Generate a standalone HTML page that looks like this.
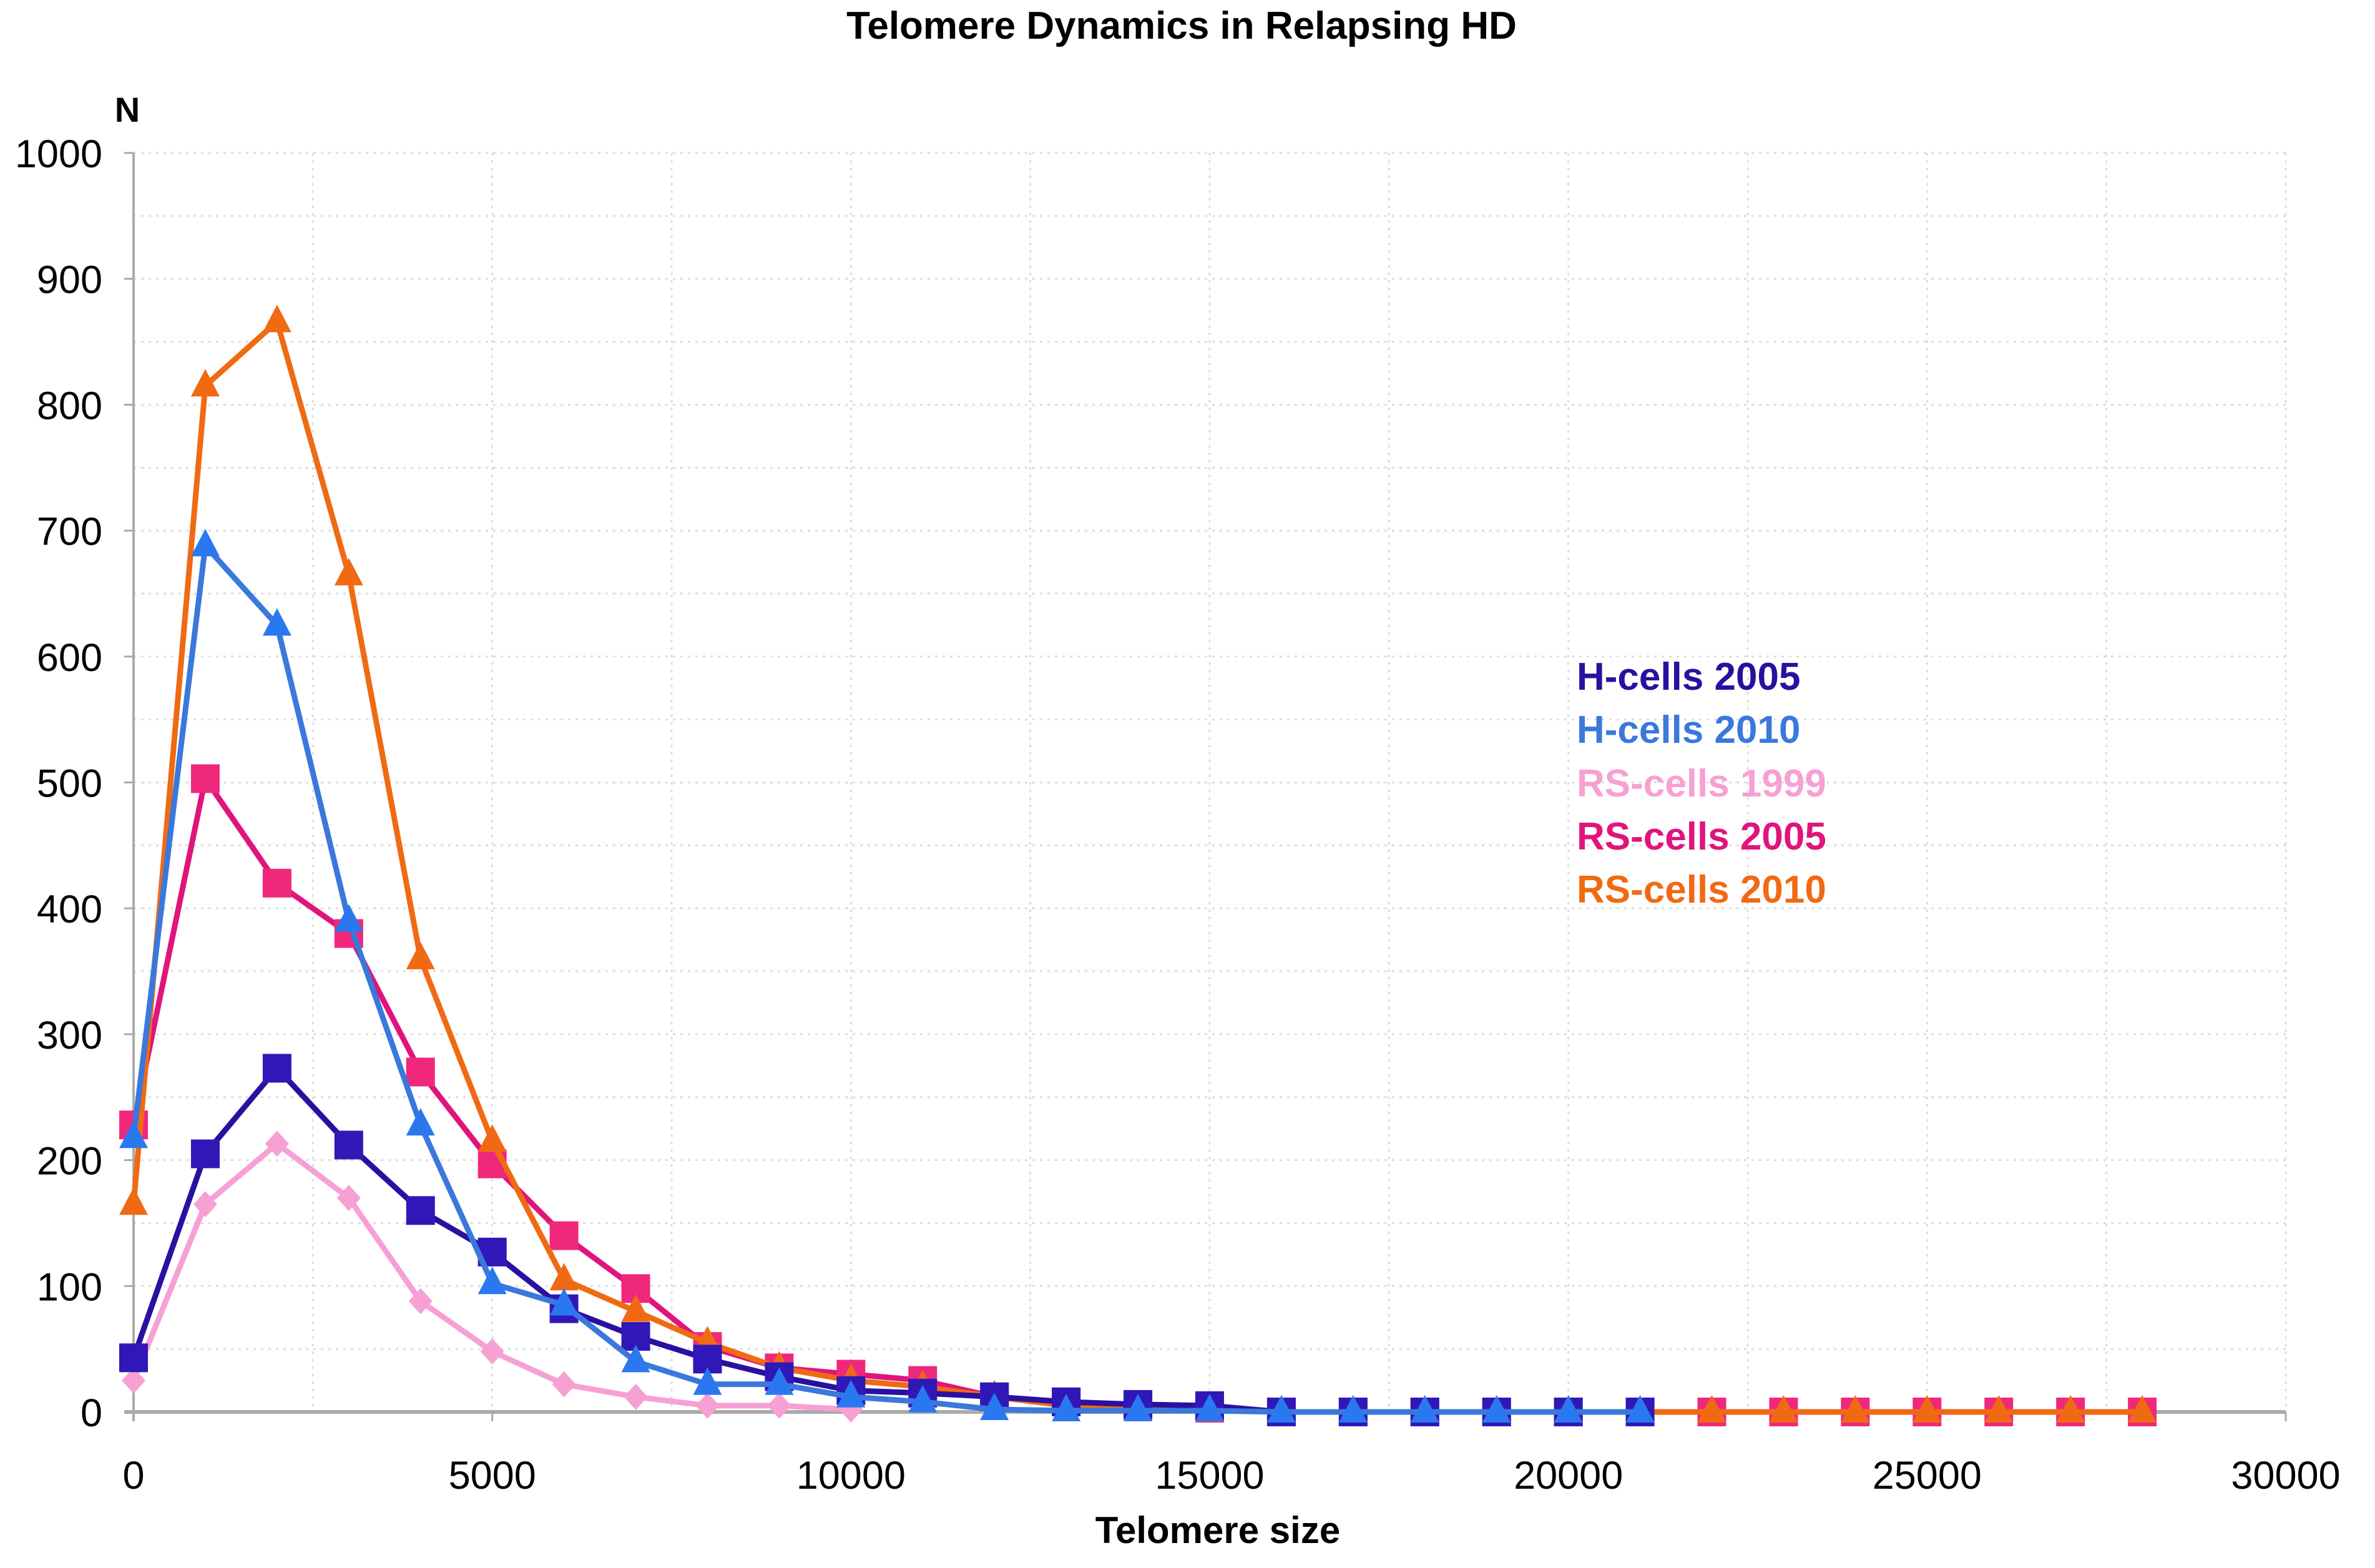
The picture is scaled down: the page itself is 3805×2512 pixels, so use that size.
<!DOCTYPE html>
<html><head><meta charset="utf-8"><style>
html,body{margin:0;padding:0;background:#fff;}
svg{display:block;font-family:"Liberation Sans",Arial,sans-serif;}
</style></head><body>
<svg id="chart" width="3805" height="2512" viewBox="0 0 3805 2512" xmlns="http://www.w3.org/2000/svg">
<rect width="3805" height="2512" fill="#fff"/>
<text x="1893" y="62" text-anchor="middle" font-size="62" font-weight="bold">Telomere Dynamics in Relapsing HD</text>
<text x="204" y="195" text-anchor="middle" font-size="56" font-weight="bold">N</text>
<text x="1951" y="2472" text-anchor="middle" font-size="60" font-weight="bold">Telomere size</text>
<g id="grid"></g><g id="axes"></g><g id="series"></g>
<g font-size="62" font-weight="bold">
<text x="2526" y="1105" fill="#2a10a0">H-cells 2005</text>
<text x="2526" y="1190" fill="#3a78dc">H-cells 2010</text>
<text x="2526" y="1276" fill="#f7a0d4">RS-cells 1999</text>
<text x="2526" y="1361" fill="#e0147c">RS-cells 2005</text>
<text x="2526" y="1446" fill="#f06a14">RS-cells 2010</text>
</g>
</svg>
<script>
const xTicks=[0,5000,10000,15000,20000,25000,30000];
const yTicks=[0,100,200,300,400,500,600,700,800,900,1000];
const xCats=[0,1000,2000,3000,4000,5000,6000,7000,8000,9000,10000,11000,12000,13000,14000,15000,16000,17000,18000,19000,20000,21000,22000,23000,24000,25000,26000,27000,28000];
const rs2010=[165,815,866,665,360,215,105,80,55,35,25,20,12,5,3,2,0,0,0,0,0,0,0,0,0,0,0,0,0];
const h2010=[218,688,625,390,228,102,85,40,22,22,12,8,2,1,1,1,0,0,0,0,0,0];
const rs2005=[228,503,420,380,270,197,140,98,52,35,30,25,12,8,5,3,0,0,0,0,0,0,0,0,0,0,0,0,0];
const h2005=[43,205,273,212,160,127,82,60,42,28,17,15,12,8,6,5,0,0,0,0,0,0];
const rs1999=[25,165,213,170,88,48,22,12,5,5,2];
const X0=214,X1=3662,Y0=2262,Y1=245;
const sx=v=>X0+(v-0)/30000*(X1-X0);
const sy=v=>Y0-v/1000*(Y0-Y1);
const NS="http://www.w3.org/2000/svg";
function mk(t,a,p){const e=document.createElementNS(NS,t);for(const k in a)e.setAttribute(k,a[k]);p.appendChild(e);return e;}
const grid=document.getElementById('grid'),axes=document.getElementById('axes'),ser=document.getElementById('series');
for(let v=50;v<=1000;v+=50){const l=mk('line',{x1:X0,x2:X1,y1:sy(v),y2:sy(v),stroke:'#ddd','stroke-width':3,'stroke-dasharray':'4 8'},grid);

}
for(let v=2500;v<=30000;v+=2500){const l=mk('line',{x1:sx(v),x2:sx(v),y1:Y1,y2:Y0,stroke:'#ddd','stroke-width':3,'stroke-dasharray':'4 8'},grid);

}
let a=mk('line',{x1:X0,x2:X0,y1:Y1,y2:Y0+15,stroke:'#aaa','stroke-width':4},axes);


a=mk('line',{x1:X0-15,x2:X1,y1:Y0,y2:Y0,stroke:'#aaa','stroke-width':6},axes);


yTicks.forEach(v=>{const t=mk('text',{x:164,y:sy(v)+23,'text-anchor':'end','font-size':63},axes);t.textContent=v;


const k=mk('line',{x1:X0-15,x2:X0,y1:sy(v),y2:sy(v),stroke:'#aaa','stroke-width':3},axes);

});
xTicks.forEach(v=>{const t=mk('text',{x:sx(v),y:2385,'text-anchor':'middle','font-size':63},axes);t.textContent=v;


const k=mk('line',{x1:sx(v),x2:sx(v),y1:Y0,y2:Y0+15,stroke:'#aaa','stroke-width':3},axes);

});
function marker(shape,x,y,c,g){let e;
if(shape==='sq')e=mk('rect',{x:x-23,y:y-23,width:46,height:46,fill:c},g);
else if(shape==='tri')e=mk('polygon',{points:`${x},${y-27} ${x+23},${y+17} ${x-23},${y+17}`,fill:c},g);
else e=mk('polygon',{points:`${x},${y-21} ${x+19},${y} ${x},${y+21} ${x-19},${y}`,fill:c},g);
return e;}
function draw(name,vals,color,shape,mcolor){const g=mk('g',{},ser);


const pts=vals.map((v,i)=>sx(xCats[i])+','+sy(v)).join(' ');
const pl=mk('polyline',{points:pts,fill:'none',stroke:color,'stroke-width':9,'stroke-linejoin':'round'},g);


vals.forEach((v,i)=>{const m=marker(shape,sx(xCats[i]),sy(v),mcolor||color,g);

});}
draw('rs-cells-1999',rs1999,'#f7a0d4','dia');
draw('rs-cells-2005',rs2005,'#e0147c','sq','#f0287c');
draw('rs-cells-2010',rs2010,'#f06a14','tri');
draw('h-cells-2005',h2005,'#2a10a0','sq','#3018b8');
draw('h-cells-2010',h2010,'#3a78dc','tri','#2a78f0');
</script>
</body></html>
